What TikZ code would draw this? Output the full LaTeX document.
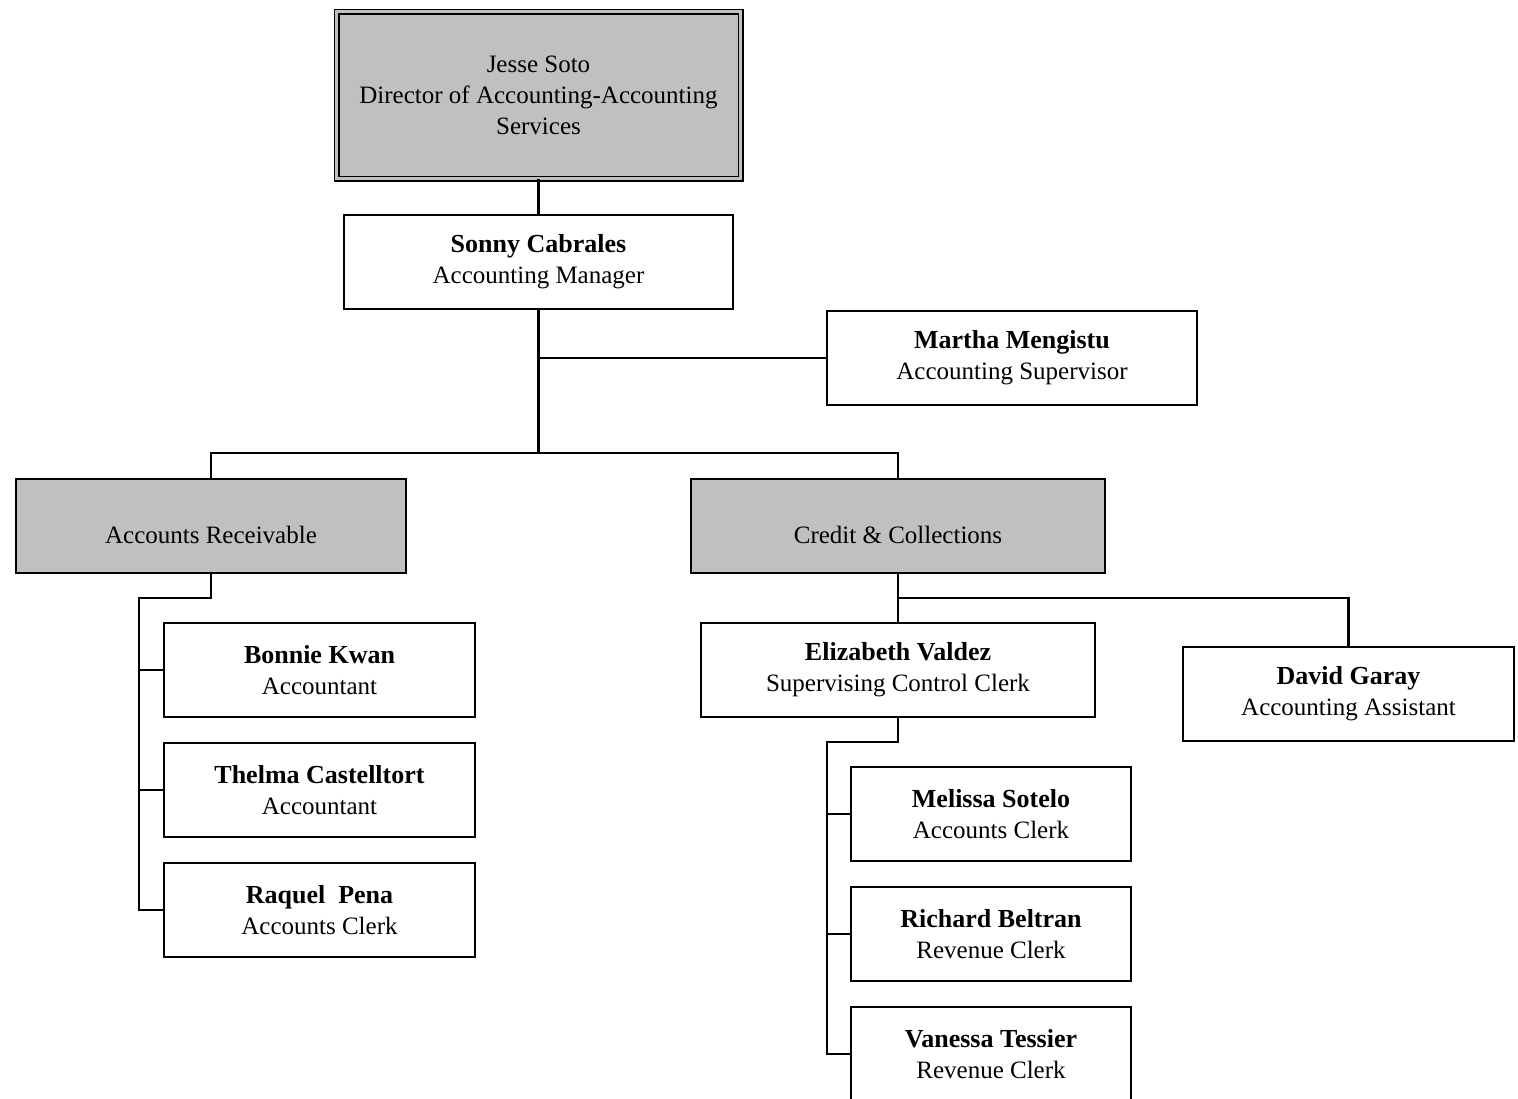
\documentclass[tikz,border=0pt]{standalone}
\usepackage{fontspec}
\setmainfont{Liberation Serif}
\definecolor{boxgray}{RGB}{192,192,192}
\newcommand{\pname}[1]{{\fontsize{26}{31}\selectfont\bfseries #1}}
\tikzset{
  x=1pt, y=-1pt,
  every node/.style={font=\fontsize{25}{31}\selectfont},
  card/.style={draw, line width=2pt, fill=white, align=center, inner sep=0pt, minimum height=94pt},
  unit/.style={card, fill=boxgray, text height=40pt, text depth=6pt},
  link/.style={line width=2.1pt},
}
\begin{document}
\begin{tikzpicture}
\useasboundingbox (0,0) rectangle (1518,1098);
\clip (0,0) rectangle (1518,1098);

\node[draw, line width=1.8pt, double=boxgray, double distance=2.4pt, fill=boxgray, align=center,
      inner sep=0pt, minimum width=404pt, minimum height=167pt] (jesse) at (538.5,95)
      {Jesse Soto\\Director of Accounting-Accounting\\Services};

\node[card, minimum width=389pt] (sonny) at (538.5,262) {\pname{Sonny Cabrales}\\Accounting Manager};
\node[card, minimum width=370pt] (martha) at (1012,358) {\pname{Martha Mengistu}\\Accounting Supervisor};

\node[unit, minimum width=390pt] (ar) at (211,526) {Accounts Receivable};
\node[unit, minimum width=414pt] (cc) at (898,526) {Credit \& Collections};

\node[card, minimum width=311pt] (bonnie) at (319.5,670) {\pname{Bonnie Kwan}\\Accountant};
\node[card, minimum width=311pt] (thelma) at (319.5,790) {\pname{Thelma Castelltort}\\Accountant};
\node[card, minimum width=311pt] (raquel) at (319.5,910) {\pname{Raquel\ \ Pena}\\Accounts Clerk};

\node[card, minimum width=394pt] (elizabeth) at (898,670) {\pname{Elizabeth Valdez}\\Supervising Control Clerk};
\node[card, minimum width=331pt] (david) at (1348.5,694) {\pname{David Garay}\\Accounting Assistant};

\node[card, minimum width=280pt] (melissa) at (991,814) {\pname{Melissa Sotelo}\\Accounts Clerk};
\node[card, minimum width=280pt] (richard) at (991,934) {\pname{Richard Beltran}\\Revenue Clerk};
\node[card, minimum width=280pt] (vanessa) at (991,1054) {\pname{Vanessa Tessier}\\Revenue Clerk};

% connectors
\draw[link] (jesse.south) -- (sonny.north);
\coordinate (bar) at (538.5,453);
\draw[link] (sonny.south) |- (martha.west);
\draw[link] (sonny.south) -- (bar);
\draw[link] (bar) -| (ar.north);
\draw[link] (bar) -| (cc.north);

\coordinate (arl) at (139,598);
\draw[link] (ar.south) |- (arl) -- (arl |- raquel.west) -- (raquel.west);
\draw[link] (arl |- bonnie.west) -- (bonnie.west);
\draw[link] (arl |- thelma.west) -- (thelma.west);

\coordinate (ccj) at (898,598);
\draw[link] (cc.south) -- (elizabeth.north);
\draw[link] (ccj) -| (david.north);

\coordinate (ell) at (827,742);
\draw[link] (elizabeth.south) |- (ell) -- (ell |- vanessa.west) -- (vanessa.west);
\draw[link] (ell |- melissa.west) -- (melissa.west);
\draw[link] (ell |- richard.west) -- (richard.west);
\end{tikzpicture}
\end{document}
